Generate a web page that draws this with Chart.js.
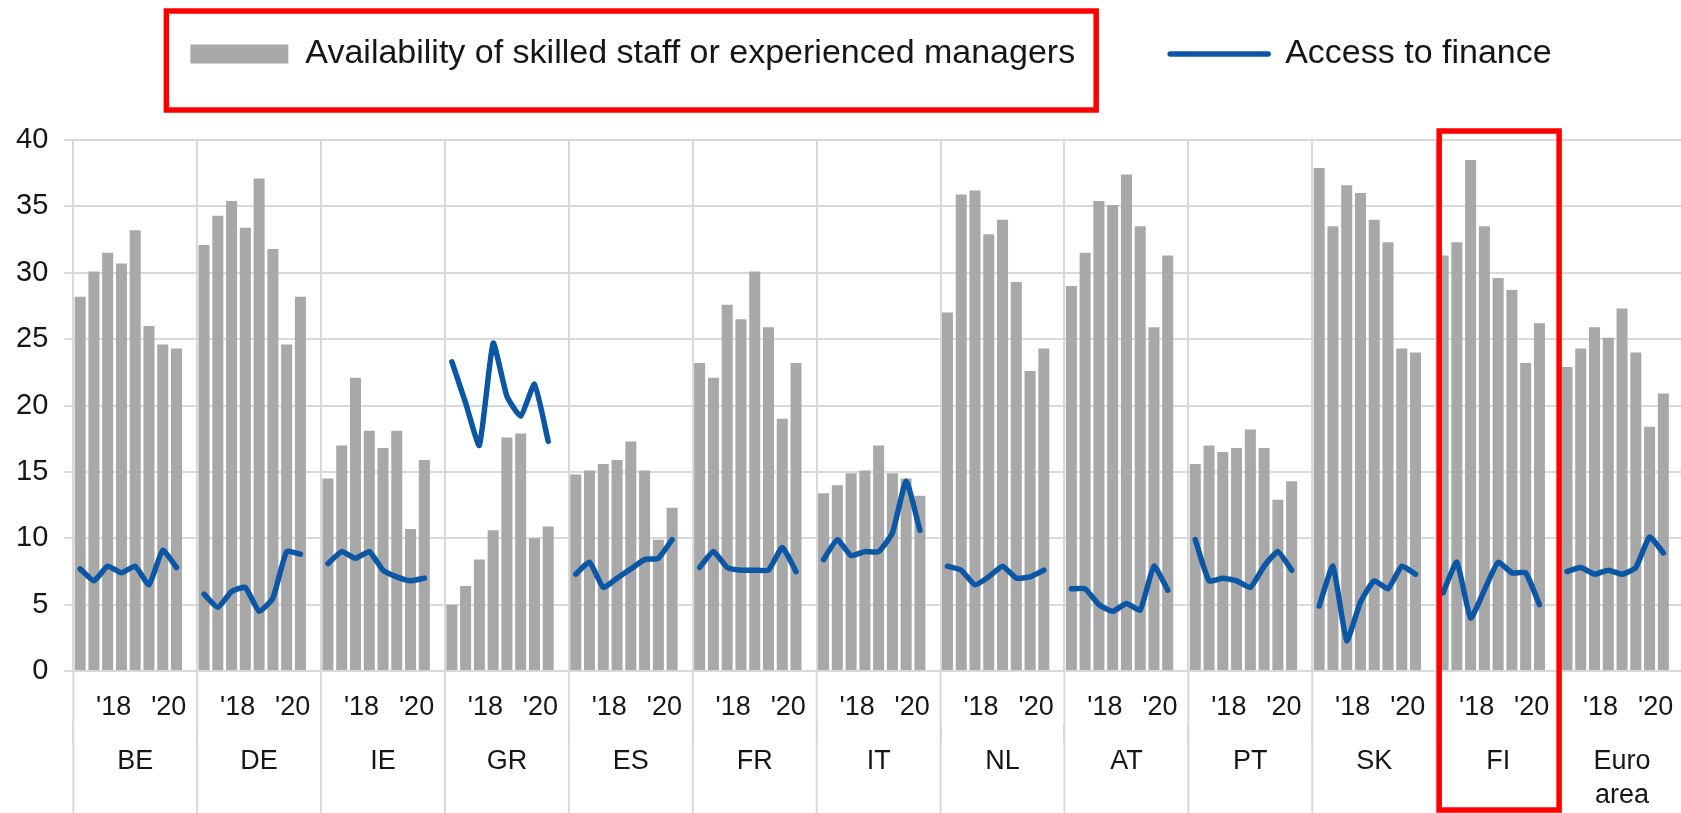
<!DOCTYPE html>
<html>
<head>
<meta charset="utf-8">
<script src="https://cdn.jsdelivr.net/npm/chart.js@4/dist/chart.umd.min.js"></script>
<style>
  html, body { margin: 0; padding: 0; background: #fff; overflow: hidden; }
  #wrap { width: 1684px; height: 813px; position: relative; }
</style>
</head>
<body>
<div id="wrap"><canvas id="grafico"></canvas></div>
<script>
// Países e períodos (semestres)
const groups = ['BE', 'DE', 'IE', 'GR', 'ES', 'FR', 'IT', 'NL', 'AT', 'PT', 'SK', 'FI', ['Euro', 'area']];
const periods = ['2017H1', '2017H2', '2018H1', '2018H2', '2019H1', '2019H2', '2020H1', '2020H2'];
const yearTicks = ['', '', "'18", '', '', '', "'20", ''];

// Availability of skilled staff or experienced managers (uma linha por país)
const staff = [
    [28.2, 30.1, 31.5, 30.7, 33.2, 26.0, 24.6, 24.3], // BE
    [32.1, 34.3, 35.4, 33.4, 37.1, 31.8, 24.6, 28.2], // DE
    [14.5, 17.0, 22.1, 18.1, 16.8, 18.1, 10.7, 15.9], // IE
    [5.0, 6.4, 8.4, 10.6, 17.6, 17.9, 10.0, 10.9],    // GR
    [14.8, 15.1, 15.6, 15.9, 17.3, 15.1, 9.9, 12.3],  // ES
    [23.2, 22.1, 27.6, 26.5, 30.1, 25.9, 19.0, 23.2], // FR
    [13.4, 14.0, 14.9, 15.1, 17.0, 14.9, 14.5, 13.2], // IT
    [27.0, 35.9, 36.2, 32.9, 34.0, 29.3, 22.6, 24.3], // NL
    [29.0, 31.5, 35.4, 35.1, 37.4, 33.5, 25.9, 31.3], // AT
    [15.6, 17.0, 16.5, 16.8, 18.2, 16.8, 12.9, 14.3], // PT
    [37.9, 33.5, 36.6, 36.0, 34.0, 32.3, 24.3, 24.0], // SK
    [31.3, 32.3, 38.5, 33.5, 29.6, 28.7, 23.2, 26.2], // FI
    [22.9, 24.3, 25.9, 25.1, 27.3, 24.0, 18.4, 20.9]  // Euro area
];

// Access to finance
const finance = [
    [7.7, 6.8, 7.9, 7.4, 7.9, 6.5, 9.1, 7.8],     // BE
    [5.8, 4.8, 6.0, 6.3, 4.5, 5.5, 9.0, 8.8],     // DE
    [8.1, 9.0, 8.5, 9.0, 7.6, 7.1, 6.8, 7.0],     // IE
    [23.3, 20.2, 17.0, 24.7, 20.7, 19.2, 21.6, 17.3], // GR
    [7.3, 8.2, 6.3, 7.0, 7.7, 8.4, 8.5, 9.9],     // ES
    [7.8, 9.0, 7.8, 7.6, 7.6, 7.6, 9.3, 7.5],     // FR
    [8.4, 9.9, 8.7, 9.0, 9.0, 10.4, 14.3, 10.6],  // IT
    [7.9, 7.6, 6.5, 7.1, 7.9, 7.0, 7.1, 7.6],     // NL
    [6.2, 6.2, 5.0, 4.5, 5.1, 4.6, 7.9, 6.1],     // AT
    [9.9, 6.8, 7.0, 6.8, 6.3, 7.9, 9.0, 7.6],     // PT
    [4.9, 7.9, 2.3, 5.2, 6.8, 6.2, 7.9, 7.3],     // SK
    [5.9, 8.2, 4.0, 6.1, 8.2, 7.4, 7.4, 5.0],     // FI
    [7.5, 7.8, 7.3, 7.6, 7.3, 7.8, 10.1, 8.9]     // Euro area
];

const yMax = 40;
const yStep = 5;

// Monta as categorias: 8 semestres + 1 vazio por país
const labels = [];
const barData = [];
const lineData = [];
groups.forEach((g, gi) => {
    const name = Array.isArray(g) ? g.join(' ') : g;
    periods.forEach((p, pi) => {
        labels.push(name + ' ' + p);
        barData.push(staff[gi][pi]);
        lineData.push(finance[gi][pi]);
    });
    labels.push(name + ' -');
    barData.push(null);
    lineData.push(null);
});
const slots = periods.length + 1;

const gridColor = '#d9d9d9';
const textColor = '#161616';
const redColor = '#ff0000';

Chart.defaults.font.family = '"Liberation Sans", Arial, sans-serif';
Chart.defaults.color = textColor;

// Ajusta a altura e a posição da legenda
const legendHeight = 198;
const legendShift = 29;
const placeLegend = {
    id: 'placeLegend',
    beforeLayout(chart) {
        const lg = chart.legend;
        if (lg && !lg.fitPatched) {
            const fit = lg.fit;
            lg.fit = function () {
                fit.call(this);
                this.height = legendHeight;
            };
            lg.fitPatched = true;
        }
    },
    afterLayout(chart) {
        const lg = chart.legend;
        if (lg) {
            lg.left += legendShift;
            lg.right += legendShift;
        }
    }
};

// Separadores abaixo do gráfico e caixas vermelhas
const decorations = {
    id: 'decorations',
    afterDraw(chart) {
        const ctx = chart.ctx;
        const area = chart.chartArea;
        const x2 = chart.scales.x2;
        ctx.save();
        ctx.strokeStyle = gridColor;
        ctx.lineWidth = 2;
        for (let i = 0; i <= groups.length; i++) {
            const x = x2.getPixelForValue(i - 0.5);
            ctx.beginPath();
            ctx.moveTo(x, area.bottom);
            ctx.lineTo(x, chart.height);
            ctx.stroke();
        }

        ctx.strokeStyle = redColor;
        ctx.lineWidth = 5.5;
        // caixa em volta do primeiro item da legenda
        const hb = chart.legend.legendHitBoxes[0];
        if (hb) {
            ctx.strokeRect(hb.left - 24, hb.top - 26, hb.width + 45, hb.height + 65);
        }
        // caixa em volta de FI
        const fi = groups.indexOf('FI');
        const xl = x2.getPixelForValue(fi - 0.5) + 3;
        const xr = x2.getPixelForValue(fi + 0.5) - 1;
        ctx.strokeRect(xl, area.top - 9, xr - xl, chart.height - 3 - (area.top - 9));
        ctx.restore();
    }
};

const ctx = document.getElementById('grafico').getContext('2d');
const chart = new Chart(ctx, {
    data: {
        labels: labels,
        datasets: [
            {
                type: 'bar',
                label: 'Availability of skilled staff or experienced managers',
                data: barData,
                backgroundColor: '#a8a8a8',
                borderWidth: 0,
                barPercentage: 0.8,
                categoryPercentage: 1.0,
                order: 1
            },
            {
                type: 'line',
                label: 'Access to finance',
                data: lineData,
                borderColor: '#0b56a5',
                backgroundColor: '#0b56a5',
                borderWidth: 5.5,
                pointRadius: 0,
                tension: 0.15,
                spanGaps: false,
                borderCapStyle: 'round',
                borderJoinStyle: 'round',
                order: 0
            }
        ]
    },
    options: {
        responsive: true,
        maintainAspectRatio: false,
        devicePixelRatio: 1,
        animation: false,
        layout: { padding: { top: -58, left: 0, right: 0, bottom: 0 } },
        plugins: {
            tooltip: { enabled: false },
            legend: {
                position: 'top',
                labels: {
                    usePointStyle: true,
                    pointStyleWidth: 98,
                    boxHeight: 19,
                    padding: 95,
                    color: textColor,
                    font: { size: 34 },
                    sort: (a, b) => a.datasetIndex - b.datasetIndex,
                    generateLabels(chart) {
                        const items = Chart.defaults.plugins.legend.labels.generateLabels(chart);
                        items.forEach(it => {
                            const ds = chart.data.datasets[it.datasetIndex];
                            if (ds.type === 'line') {
                                it.pointStyle = 'line';
                                it.lineWidth = 5.5;
                                it.strokeStyle = ds.borderColor;
                                it.lineCap = 'round';
                            } else {
                                it.pointStyle = 'rect';
                                it.lineWidth = 0;
                                it.fillStyle = ds.backgroundColor;
                            }
                        });
                        return items;
                    }
                }
            }
        },
        scales: {
            x: {
                type: 'category',
                offset: true,
                grid: { display: false, drawTicks: true, tickLength: 20 },
                border: { display: false },
                ticks: {
                    autoSkip: false,
                    maxRotation: 0,
                    minRotation: 0,
                    labelOffset: 6,
                    padding: 0,
                    font: { size: 27 },
                    callback: (val, idx) => yearTicks[idx % slots] || ''
                }
            },
            x2: {
                type: 'category',
                labels: groups,
                position: 'bottom',
                offset: true,
                grid: {
                    offset: true,
                    color: gridColor,
                    lineWidth: 2,
                    drawTicks: true,
                    tickLength: 20
                },
                border: { display: false },
                ticks: {
                    autoSkip: false,
                    maxRotation: 0,
                    padding: 1,
                    font: { size: 27, lineHeight: 1.25 }
                }
            },
            y: {
                min: 0,
                max: yMax,
                ticks: {
                    stepSize: yStep,
                    padding: 16,
                    font: { size: 29 }
                },
                grid: {
                    color: gridColor,
                    lineWidth: 2,
                    tickLength: 9
                },
                border: { display: true, color: gridColor, width: 2 }
            }
        }
    },
    plugins: [placeLegend, decorations]
});
</script>
</body>
</html>
